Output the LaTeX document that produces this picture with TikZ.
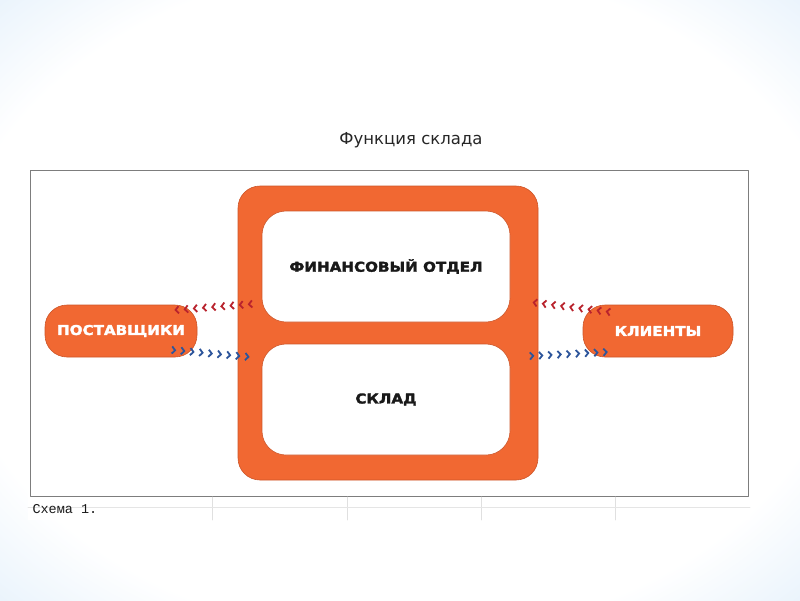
\documentclass[tikz,border=0pt]{standalone}
\usepackage{fontspec}
\setmainfont{DejaVu Sans}
\newfontfamily\heavyfont[FakeStretch=1.12, BoldFeatures={FakeBold=2.2}]{DejaVu Sans}
\newfontfamily\schemefont{Liberation Mono}
\usetikzlibrary{arrows.meta, positioning, decorations.markings}
\definecolor{SkladOrange}{RGB}{241, 104, 50}
\definecolor{SkladEdge}{RGB}{205, 85, 40}
\definecolor{SkyBlue}{RGB}{120, 190, 238}
\definecolor{SkyLight}{RGB}{205, 228, 248}
\definecolor{ChevRed}{RGB}{185, 35, 45}
\definecolor{ChevBlue}{RGB}{45, 85, 155}
\definecolor{PanelGray}{RGB}{125, 125, 125}
\pgfdeclareradialshading{skyglow}{\pgfpoint{0bp}{0bp}}{color(0bp)=(white); color(28bp)=(white); color(46bp)=(SkyLight); color(62bp)=(SkyBlue); color(80bp)=(SkyBlue)}
\tikzset{every node/.style={font=\small}, every path/.style={line cap=round, line join=round}, >={Latex[length=2mm, width=1.5mm]}}
\tikzset{
    deptbox/.style={draw=SkladEdge, fill=white, rounded corners=24pt, line width=0.6pt,
        minimum width=248pt, minimum height=111pt,
        font=\heavyfont\bfseries\fontsize{13.5}{15}\selectfont, text=black!90},
    partner/.style={draw=SkladEdge, fill=SkladOrange, rounded corners=22pt, line width=0.6pt,
        minimum height=52pt, text=white,
        font=\heavyfont\bfseries\fontsize{13.5}{15}\selectfont},
    chevrons/.style={decorate, decoration={markings,
        mark=between positions 0.04 and 1 step 9.2pt with
        {\draw [#1, line width=1.8pt, line cap=butt, line join=miter]
            (-3.2pt,-3.6pt) -- (0pt,0pt) -- (-3.2pt,3.6pt);}}}
}

\begin{document}
\begin{tikzpicture}[x=1pt, y=-1pt]
    % background
    \shade [shading=skyglow] (0,0) rectangle (800,600);
    \useasboundingbox (0,0) rectangle (800,600);
    \fill [white] (28,168) rectangle (750,520);
    \draw [PanelGray, line width=1pt] (30,170) rectangle (748,496);
    \foreach \gx in {212, 347, 481, 615}
        \draw [black!12, line width=0.6pt] (\gx,497) -- (\gx,520);
    \draw [black!10, line width=0.6pt] (28,507) -- (750,507);

    \node [font=\fontsize{16.5}{19}\selectfont, text=black!85] (title) at (411,140) {Функция склада};

    % warehouse block
    \node [
        draw=SkladEdge,
        fill=SkladOrange,
        rounded corners=22pt,
        line width=0.6pt,
        minimum width=300pt,
        minimum height=294pt
    ] (frame) at (388,333) {};
    \node [deptbox] (finance) at (386,266.5) {ФИНАНСОВЫЙ ОТДЕЛ};
    \node [deptbox] (store) at (386,399.5) {СКЛАД};

    \node [partner, minimum width=152pt] (suppliers) at (121,331) {ПОСТАВЩИКИ};
    \node [partner, minimum width=150pt] (clients) at (658,331) {КЛИЕНТЫ};

    % flows
    \coordinate (supIn) at (252,304);
    \coordinate (supRed) at (175,310);
    \coordinate (supBlue) at (172,350);
    \coordinate (supOut) at (250,357);
    \coordinate (cliRed) at (610,312);
    \coordinate (cliIn) at (530,302);
    \coordinate (cliOut) at (530,356);
    \coordinate (cliBlue) at (608,352);
    \path [chevrons=ChevRed] (supIn) -- (supRed);
    \path [chevrons=ChevBlue] (supBlue) -- (supOut);
    \path [chevrons=ChevRed] (cliRed) -- (cliIn);
    \path [chevrons=ChevBlue] (cliOut) -- (cliBlue);

    \node [anchor=west, font=\schemefont\fontsize{13.5}{15}\selectfont, text=black!90] (caption) at (29,509) {Схема 1.};
\end{tikzpicture}
\end{document}
